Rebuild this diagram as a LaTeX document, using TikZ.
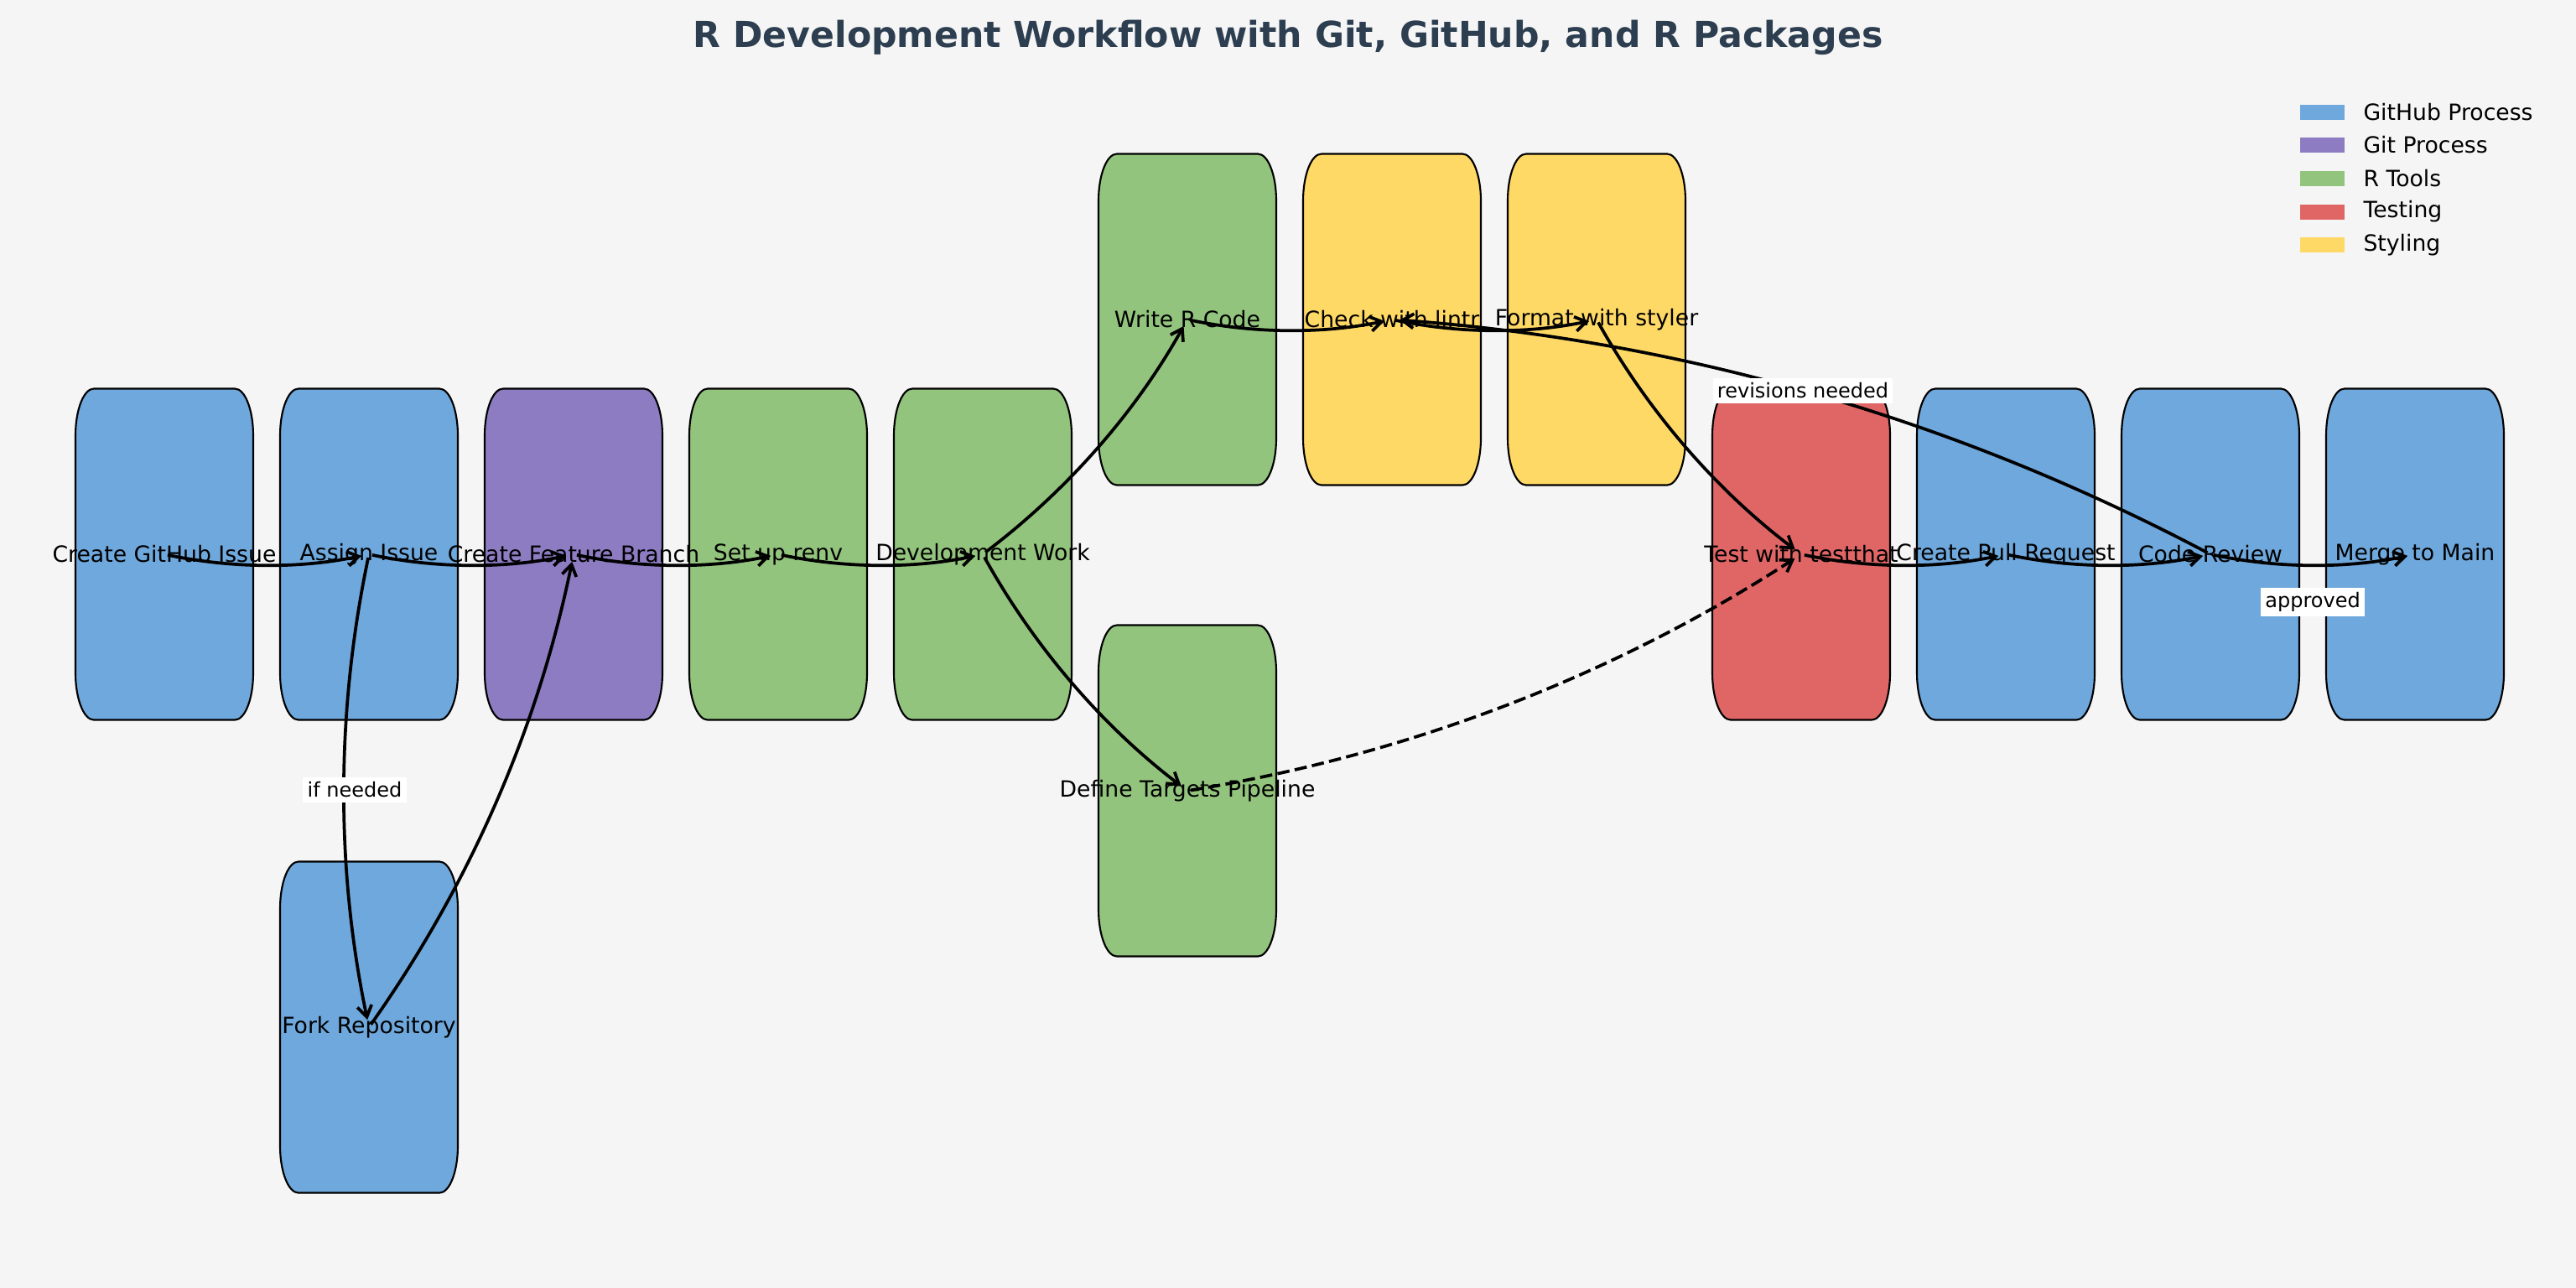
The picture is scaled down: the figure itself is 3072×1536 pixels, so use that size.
\documentclass[tikz,border=0pt]{standalone}
\usepackage{fontspec}
\setmainfont{DejaVu Sans}
\usetikzlibrary{arrows.meta,calc}
\definecolor{ghblue}{HTML}{6FA8DC}
\definecolor{gitpurple}{HTML}{8E7CC3}
\definecolor{rgreen}{HTML}{93C47D}
\definecolor{testred}{HTML}{E06666}
\definecolor{stylyellow}{HTML}{FFD966}
\definecolor{bgcol}{HTML}{F5F5F5}
\definecolor{titlecol}{HTML}{2C3E50}
\pgfdeclarelayer{bg}
\pgfsetlayers{bg,main}
\def\rx{8.25pt}
\def\ry{21pt}
\newcommand\zw[1]{\makebox[0pt][c]{#1}}
\newcommand\boxfor[2]{%
  \begin{pgfonlayer}{bg}
  \draw[boxline,fill=#2] ($(#1.north west)+(\rx,0pt)$) -- ($(#1.north east)+(-\rx,0pt)$)
    arc[start angle=90,end angle=0,x radius=\rx,y radius=\ry]
    -- ($(#1.south east)+(0pt,\ry)$)
    arc[start angle=0,end angle=-90,x radius=\rx,y radius=\ry]
    -- ($(#1.south west)+(\rx,0pt)$)
    arc[start angle=-90,end angle=-180,x radius=\rx,y radius=\ry]
    -- ($(#1.north west)+(0pt,-\ry)$)
    arc[start angle=180,end angle=90,x radius=\rx,y radius=\ry] -- cycle;
  \end{pgfonlayer}}
\newcommand\arcedge[3][]{%
  \path ($(#2.center)!0.5!(#3.center)$) coordinate (mid)
        ($(mid)!0.21!-90:(#3.center)$) coordinate (ctl);
  \draw[edge,#1] (#2.center) .. controls ($(#2.center)!0.6667!(ctl)$) and ($(#3.center)!0.6667!(ctl)$) .. (#3.center);}
\tikzset{
  proc/.style={rectangle,inner sep=0pt,minimum width=79.1pt,minimum height=147.75pt,
    font=\fontsize{10}{12}\selectfont,text=black},
  boxline/.style={draw=black,line width=0.8pt},
  edge/.style={draw=black,line width=1.4pt,shorten >=3.4pt,shorten <=1.5pt,
    -{Straight Barb[length=5pt,width=6.5pt,line width=1.4pt]}},
  elabel/.style={fill=white,inner sep=2pt,font=\fontsize{9}{11}\selectfont},
  legpatch/.style={rectangle,inner sep=0pt,minimum width=19.9pt,minimum height=6.75pt},
  legtext/.style={anchor=west,inner sep=0pt,font=\fontsize{10}{12}\selectfont}
}
\begin{document}
\begin{tikzpicture}[x=0.375pt,y=-0.375pt]
\begin{pgfonlayer}{bg}
\fill[bgcol] (0,0) rectangle (3072,1536);
\end{pgfonlayer}
\useasboundingbox (0,0) rectangle (3072,1536);

\node[font=\bfseries\fontsize{16}{19}\selectfont,text=titlecol] (title) at (1536,45)
  {R Development Workflow with Git, GitHub, and R Packages};

\node[proc] (issue) at (196,661) {\zw{Create GitHub Issue}};
\node[proc] (assign) at (440,661) {\zw{Assign Issue}};
\node[proc] (branch) at (684,661) {\zw{Create Feature Branch}};
\node[proc] (renv) at (928,661) {\zw{Set up renv}};
\node[proc] (devwork) at (1172,661) {\zw{Development Work}};
\node[proc] (writer) at (1416,381) {\zw{Write R Code}};
\node[proc] (lintr) at (1660,381) {\zw{Check with lintr}};
\node[proc] (styler) at (1904,381) {\zw{Format with styler}};
\node[proc] (targets) at (1416,943) {\zw{Define Targets Pipeline}};
\node[proc] (testthat) at (2148,661) {\zw{Test with testthat}};
\node[proc] (pr) at (2392,661) {\zw{Create Pull Request}};
\node[proc] (review) at (2636,661) {\zw{Code Review}};
\node[proc] (merge) at (2880,661) {\zw{Merge to Main}};
\node[proc] (fork) at (440,1225) {\zw{Fork Repository}};

\boxfor{issue}{ghblue}
\boxfor{assign}{ghblue}
\boxfor{branch}{gitpurple}
\boxfor{renv}{rgreen}
\boxfor{devwork}{rgreen}
\boxfor{writer}{rgreen}
\boxfor{lintr}{stylyellow}
\boxfor{styler}{stylyellow}
\boxfor{targets}{rgreen}
\boxfor{testthat}{testred}
\boxfor{pr}{ghblue}
\boxfor{review}{ghblue}
\boxfor{merge}{ghblue}
\boxfor{fork}{ghblue}

\arcedge{issue}{assign}
\arcedge{assign}{branch}
\arcedge{assign}{fork}
\arcedge{fork}{branch}
\arcedge{branch}{renv}
\arcedge{renv}{devwork}
\arcedge{devwork}{writer}
\arcedge{devwork}{targets}
\arcedge{writer}{lintr}
\arcedge{lintr}{styler}
\arcedge{styler}{testthat}
\arcedge[dash pattern=on 5.5pt off 2.4pt]{targets}{testthat}
\arcedge{testthat}{pr}
\arcedge{pr}{review}
\arcedge{review}{lintr}
\arcedge{review}{merge}

\node[elabel] (lifneeded) at (423,942) {if needed};
\node[elabel] (lrev) at (2150,466) {revisions needed};
\node[elabel] (lappr) at (2758,718) {approved};

\node[legpatch,fill=ghblue] (lp1) at (2769.5,134) {};
\node[legpatch,fill=gitpurple] (lp2) at (2769.5,173) {};
\node[legpatch,fill=rgreen] (lp3) at (2769.5,213) {};
\node[legpatch,fill=testred] (lp4) at (2769.5,252.5) {};
\node[legpatch,fill=stylyellow] (lp5) at (2769.5,292) {};
\node[legtext] (lt1) at (2818,134) {GitHub Process};
\node[legtext] (lt2) at (2818,173) {Git Process};
\node[legtext] (lt3) at (2818,213) {R Tools};
\node[legtext] (lt4) at (2818,252.5) {Testing};
\node[legtext] (lt5) at (2818,292) {Styling};
\end{tikzpicture}
\end{document}
